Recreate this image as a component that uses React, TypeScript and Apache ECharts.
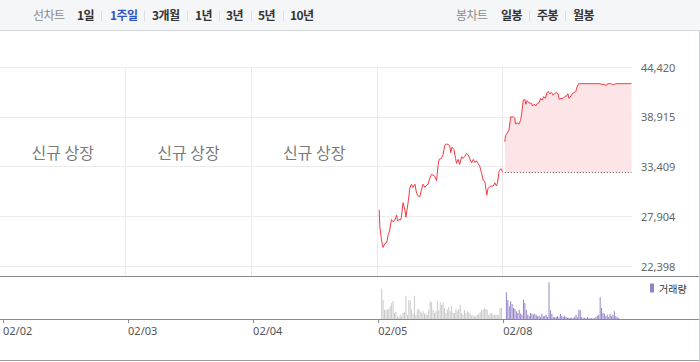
import React, { useEffect, useRef } from 'react';
import * as echarts from 'echarts';

// ---- data ----
const dates = ['02/02', '02/03', '02/04', '02/05', '02/08'];
const listingDays = ['02/02', '02/03', '02/04'];
const listingLabel = '신규 상장';
const priceTicks = [22398, 27904, 33409, 38915, 44420];
const prevClose = 32750;
const minutesPerDay = 390;

// [minute since open, price]
const day0205: [number, number][] = [
  [7, 28600], [9, 26750], [14, 25300], [19, 24450], [25, 24900], [30, 24950], [35, 25850], [40, 26400],
  [45, 27550], [50, 27300], [56, 27500], [61, 28050], [64, 27400], [69, 27550], [73, 27500], [76, 27800],
  [81, 29400], [87, 28600], [90, 27800], [97, 29500], [102, 31000], [107, 31450], [112, 31100], [118, 31450],
  [123, 30450], [128, 30150], [133, 30050], [138, 30800], [143, 31450], [149, 31100], [154, 31350], [159, 31450],
  [164, 32100], [169, 32550], [174, 32450], [180, 32300], [185, 31850], [190, 33600], [193, 34200], [200, 34300],
  [205, 34700], [211, 35800], [216, 35900], [221, 35850], [226, 35700], [229, 34950], [233, 35550], [239, 35300],
  [244, 34300], [247, 33750], [252, 34200], [257, 33650], [263, 34500], [267, 34300], [273, 34550], [278, 34850],
  [283, 34700], [288, 34300], [294, 33800], [299, 34200], [304, 33850], [309, 34050], [314, 33750], [319, 33450],
  [325, 32650], [330, 31850], [335, 31750], [338, 31000], [341, 30250], [345, 31000], [350, 31200], [356, 31250],
  [361, 31250], [366, 31600], [371, 31250], [374, 31550], [379, 32850], [384, 33150], [387, 33100], [390, 32750],
];

const day0208: [number, number][] = [
  [7, 36150], [9, 36800], [14, 37100], [20, 37450], [25, 38900], [33, 38900], [38, 38750], [40, 38100],
  [45, 38250], [51, 38100], [56, 38500], [60, 39450], [64, 40750], [69, 40850], [72, 40300], [76, 40700],
  [82, 40450], [90, 40400], [93, 40100], [98, 40300], [103, 40100], [108, 40400], [113, 40450], [118, 40950],
  [123, 40750], [128, 41150], [133, 40950], [138, 41600], [142, 41700], [146, 41450], [152, 41600], [157, 41300],
  [162, 41500], [167, 41600], [172, 41450], [176, 40850], [181, 40950], [188, 40950], [193, 41150], [198, 41200],
  [203, 41450], [206, 40950], [212, 41200], [217, 41500], [222, 41600], [227, 41700], [231, 42200], [236, 42575],
  [300, 42575], [318, 42450], [322, 42350], [326, 42575], [338, 42575], [342, 42450], [348, 42500], [352, 42575],
  [400, 42575],
];

// volume (thousand shares), evenly spaced bars within each span (minutes)
const volume0205 = [
  606, 386, 186, 186, 186, 200, 254, 320, 354, 120, 140, 54, 40, 86, 54, 120, 134, 466, 86, 374,
  374, 186, 106, 466, 86, 186, 200, 154, 120, 154, 106, 106, 86, 186, 354, 334, 186, 120, 154, 354,
  174, 334, 286, 334, 220, 120, 186, 240, 154, 254, 120, 120, 200, 154, 200, 286, 120, 86, 174, 120,
  154, 134, 106, 66, 86, 54, 66, 86, 106, 134, 186, 186, 220, 200, 186, 86, 106, 120, 86, 86,
  86, 86, 86, 220, 220,
];
const volume0205Span = [11, 385];
const volume0208 = [
  534, 380, 254, 354, 300, 220, 200, 154, 120, 186, 106, 86, 386, 320, 186, 86, 66, 120, 106, 86,
  106, 86, 54, 66, 40, 106, 54, 66, 86, 40, 734, 174, 106, 40, 40, 40, 54, 34, 100, 66,
  40, 66, 40, 20, 26, 20, 26, 20, 40, 86, 34, 186, 174, 40, 20, 20, 14, 40, 14, 14,
  14, 14, 14, 40, 66, 86, 434, 220, 120, 106, 54, 86, 40, 106, 54, 86, 154, 54, 40, 20,
];
const volume0208Span = [10, 360];
const volumeMax = 840;

const lineTabs = ['1일', '1주일', '3개월', '1년', '3년', '5년', '10년'];
const candleTabs = ['일봉', '주봉', '월봉'];
const activeTab = '1주일';

// ---- layout ----
const W = 700;
const H = 362;
const PLOT_W = 632;
const X_MAX = 5.03;
const RED = '#f23b45';
const PURPLE = '#9583c9';
const GRIDC = '#ebebeb';
const CJK = '"Noto Sans CJK KR", "Noto Sans", sans-serif';

const lineTabX = [77, 110, 152, 195, 226, 258, 290];
const lineSepX = [101, 144, 187, 219, 251, 283];
const candleTabX = [501, 537, 573];
const candleSepX = [529, 565];

function dayX(day: string, minute: number) {
  return dates.indexOf(day) + minute / minutesPerDay;
}

function spreadVolume(day: string, vals: number[], span: number[]) {
  const n = vals.length;
  return vals.map((v, i) => [dayX(day, span[0] + (i * (span[1] - span[0])) / (n - 1)), v]);
}

export default function App() {
  const ref = useRef<HTMLDivElement>(null);

  useEffect(() => {
    document.body.style.margin = '0';
    const chart = echarts.init(ref.current!, undefined, { renderer: 'svg' });
    const step = (priceTicks[priceTicks.length - 1] - priceTicks[0]) / (priceTicks.length - 1);
    const extra = 0.2;
    const nT = priceTicks.length - 1;
    const priceMax = priceTicks[nT];
    const priceMin = priceTicks[0] - extra * step;

    const isInt = (v: number) => Math.abs(v - Math.round(v)) < 1e-6;
    const first08 = day0208[0][0];
    const last08 = day0208[day0208.length - 1][0];

    const vol = [
      ...spreadVolume('02/05', volume0205, volume0205Span).map((d) => ({ value: d, itemStyle: { color: '#c9c9c9' } })),
      ...spreadVolume('02/08', volume0208, volume0208Span).map((d) => ({ value: d })),
    ];

    const option: any = {
      animation: false,
      grid: [
        { left: 0, top: 67, width: PLOT_W, height: 209 },
        { left: 0, top: 277, width: PLOT_W, height: 42 },
      ],
      legend: {
        data: ['거래량'],
        left: 650,
        top: 283,
        padding: 0,
        icon: 'rect',
        itemWidth: 4,
        itemHeight: 9,
        selectedMode: false,
        textStyle: { fontSize: 10, color: '#333', fontFamily: CJK },
      },
      xAxis: [
        { type: 'value', gridIndex: 0, min: 0, max: X_MAX, show: false },
        {
          type: 'value',
          gridIndex: 1,
          min: 0,
          max: X_MAX,
          interval: 1,
          axisLine: { show: false },
          splitLine: { show: false },
          axisTick: {
            show: true,
            length: 4,
            customValues: dates.map((_, i) => i),
            lineStyle: { color: '#868b93' },
          },
          axisLabel: {
            customValues: dates.map((_, i) => i),
            formatter: (v: number) => (isInt(v) ? dates[Math.round(v)] ?? '' : ''),
            align: 'left',
            margin: 6,
            fontSize: 11,
            color: '#555',
            fontFamily: '"Noto Sans", sans-serif',
          },
        },
      ],
      yAxis: [
        {
          type: 'value',
          gridIndex: 0,
          inverse: true,
          min: 0,
          max: nT + extra,
          interval: 1,
          position: 'right',
          axisLine: { show: false },
          axisTick: { show: false },
          axisLabel: {
            margin: 9,
            fontSize: 11,
            color: '#666',
            fontFamily: '"Noto Sans", sans-serif',
            formatter: (v: number) =>
              isInt(v) && v <= nT ? priceTicks[nT - Math.round(v)].toLocaleString('en-US') : '',
          },
          splitLine: { show: true, showMaxLine: false, lineStyle: { color: GRIDC, width: 1 } },
        },
        { type: 'value', gridIndex: 0, min: priceMin, max: priceMax, show: false },
        { type: 'value', gridIndex: 1, min: 0, max: volumeMax, show: false },
      ],
      series: [
        {
          type: 'line',
          name: '02/05',
          xAxisIndex: 0,
          yAxisIndex: 1,
          showSymbol: false,
          symbol: 'none',
          z: 3,
          lineStyle: { color: RED, width: 1 },
          data: day0205.map(([m, p]) => [dayX('02/05', m), p]),
          markLine: {
            silent: true,
            symbol: 'none',
            z: 1,
            label: { show: false },
            lineStyle: { color: GRIDC, type: 'solid', width: 1 },
            data: dates.slice(1).map((_, i) => ({ xAxis: i + 1 })),
          },
        },
        {
          type: 'line',
          name: '02/08',
          xAxisIndex: 0,
          yAxisIndex: 1,
          showSymbol: false,
          symbol: 'none',
          z: 3,
          lineStyle: { color: RED, width: 1 },
          areaStyle: { color: '#fde4e7', opacity: 1, origin: prevClose },
          data: day0208.map(([m, p]) => [dayX('02/08', m), p]),
        },
        {
          type: 'line',
          name: 'prevClose',
          xAxisIndex: 0,
          yAxisIndex: 1,
          showSymbol: false,
          symbol: 'none',
          z: 4,
          lineStyle: { color: '#555', width: 1, type: [1, 2] },
          data: [
            [dayX('02/08', first08), prevClose],
            [dayX('02/08', last08), prevClose],
          ],
        },
        {
          type: 'scatter',
          name: 'listing',
          xAxisIndex: 0,
          yAxisIndex: 0,
          symbolSize: 1,
          itemStyle: { color: 'rgba(0,0,0,0)' },
          silent: true,
          label: {
            show: true,
            position: 'inside',
            formatter: listingLabel,
            fontSize: 16,
            color: '#555',
            fontFamily: CJK,
          },
          data: listingDays.map((d) => [dates.indexOf(d) + 0.5, 1.71]),
        },
        {
          type: 'bar',
          name: '거래량',
          xAxisIndex: 1,
          yAxisIndex: 2,
          barWidth: 1,
          color: PURPLE,
          itemStyle: { color: PURPLE },
          data: vol,
        },
      ],
      graphic: [
        { type: 'line', silent: true, shape: { x1: 0, y1: 276.5, x2: W, y2: 276.5 }, style: { stroke: '#868b93', lineWidth: 1 } },
        { type: 'line', silent: true, shape: { x1: 0, y1: 319.5, x2: W, y2: 319.5 }, style: { stroke: '#868b93', lineWidth: 1 } },
        { type: 'line', silent: true, shape: { x1: 0, y1: 360.5, x2: W, y2: 360.5 }, style: { stroke: '#9a9ea5', lineWidth: 1 } },
        { type: 'line', silent: true, shape: { x1: 699.5, y1: 30, x2: 699.5, y2: H }, style: { stroke: '#cfd2d6', lineWidth: 1 } },
      ],
    };
    chart.setOption(option);
    return () => chart.dispose();
  }, []);

  const textBase: React.CSSProperties = {
    position: 'absolute',
    top: 0,
    lineHeight: '30px',
    fontSize: 12,
    fontFamily: CJK,
    whiteSpace: 'nowrap',
    letterSpacing: '-0.6px',
  };
  const sep = (x: number, k: string) => (
    <div key={k} style={{ position: 'absolute', left: x, top: 11, width: 1, height: 10, background: '#dcdde0' }} />
  );

  return (
    <div style={{ position: 'absolute', left: 0, top: 0, width: W, height: H, background: '#fff' }}>
      <div ref={ref} style={{ position: 'absolute', left: 0, top: 0, width: W, height: H }} />
      <div
        style={{
          position: 'absolute',
          left: 0,
          top: 0,
          width: W,
          height: 30,
          background: '#f5f6f8',
          borderBottom: '1px solid #d3d6db',
          zIndex: 2,
        }}
      >
        <span style={{ ...textBase, left: 33, color: '#8a8a8a' }}>선차트</span>
        {lineTabs.map((t, i) => (
          <span
            key={t}
            style={{ ...textBase, left: lineTabX[i], fontWeight: 700, color: t === activeTab ? '#2f55c4' : '#333' }}
          >
            {t}
          </span>
        ))}
        {lineSepX.map((x, i) => sep(x, 'ls' + i))}
        <span style={{ ...textBase, left: 456, color: '#8a8a8a' }}>봉차트</span>
        {candleTabs.map((t, i) => (
          <span key={t} style={{ ...textBase, left: candleTabX[i], fontWeight: 700, color: '#333' }}>
            {t}
          </span>
        ))}
        {candleSepX.map((x, i) => sep(x, 'cs' + i))}
      </div>
    </div>
  );
}
